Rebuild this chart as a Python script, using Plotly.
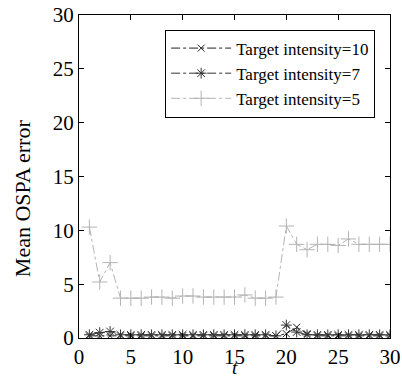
import plotly.graph_objects as go

t = list(range(1, 31))
int10 = [0.2, 0.2, 0.2, 0.2, 0.2, 0.2, 0.2, 0.2, 0.2, 0.2, 0.2, 0.2, 0.2, 0.2, 0.2,
         0.2, 0.2, 0.2, 0.2, 0.4, 1.0, 0.4, 0.2, 0.2, 0.2, 0.2, 0.2, 0.2, 0.2, 0.2]
int7 = [0.3, 0.5, 0.6, 0.3, 0.3, 0.3, 0.3, 0.3, 0.3, 0.3, 0.3, 0.3, 0.3, 0.3, 0.3,
        0.3, 0.3, 0.3, 0.2, 1.2, 0.55, 0.3, 0.3, 0.3, 0.3, 0.3, 0.3, 0.3, 0.3, 0.3]
int5 = [10.3, 5.2, 7.0, 3.7, 3.7, 3.7, 3.8, 3.8, 3.7, 3.9, 3.9, 3.8, 3.8, 3.8, 3.8,
        4.0, 3.7, 3.7, 3.8, 10.4, 8.7, 8.2, 8.7, 8.7, 8.6, 9.2, 8.7, 8.7, 8.7, 8.7]
names = ["Target intensity=10", "Target intensity=7", "Target intensity=5"]

fig = go.Figure()
fig.add_trace(go.Scatter(x=t, y=int10, name=names[0], mode="lines+markers",
                         line=dict(color="#222222", width=1, dash="dashdot"),
                         marker=dict(symbol="x-thin-open", size=7,
                                     line=dict(color="#222222", width=1))))
fig.add_trace(go.Scatter(x=t, y=int7, name=names[1], mode="lines+markers",
                         line=dict(color="#333333", width=1, dash="dashdot"),
                         marker=dict(symbol="asterisk-open", size=9,
                                     line=dict(color="#333333", width=1))))
fig.add_trace(go.Scatter(x=t, y=int5, name=names[2], mode="lines+markers",
                         line=dict(color="#b4b4b4", width=1, dash="dashdot"),
                         marker=dict(symbol="cross-thin-open", size=11,
                                     line=dict(color="#a8a8a8", width=1))))

font = "Liberation Serif"
axis_common = dict(showline=True, linecolor="black", linewidth=1, mirror="ticks",
                   ticks="inside", ticklen=5, tickcolor="black", showgrid=False,
                   zeroline=False, automargin=False,
                   tickfont=dict(family=font, size=21, color="black"))
fig.update_layout(
    width=402, height=379,
    margin=dict(l=79, r=12, t=15, b=41),
    paper_bgcolor="white", plot_bgcolor="white",
    font=dict(family=font, color="black"),
    xaxis=dict(range=[0, 30], tickvals=[0, 5, 10, 15, 20, 25, 30], ticklabelstandoff=0,
               **axis_common),
    yaxis=dict(range=[0, 30], tickvals=[0, 5, 10, 15, 20, 25, 30], **axis_common),
    legend=dict(x=0.277, y=0.955, xanchor="left", yanchor="top",
                bordercolor="black", borderwidth=1, bgcolor="white",
                font=dict(family=font, size=17, color="black"),
                itemwidth=60, tracegroupgap=0),
    showlegend=True,
    annotations=[
        dict(text="<i>t</i>", x=0.5, xref="paper", y=0, yref="paper",
             xanchor="center", yanchor="bottom", yshift=-41, showarrow=False,
             borderpad=0, font=dict(family=font, size=19, color="black")),
        dict(text="Mean OSPA error", x=0, xref="paper", y=0.433, yref="paper",
             xanchor="center", yanchor="middle", xshift=-57, textangle=-90,
             showarrow=False, font=dict(family=font, size=22, color="black")),
    ],
)
fig.write_html("out.html")
